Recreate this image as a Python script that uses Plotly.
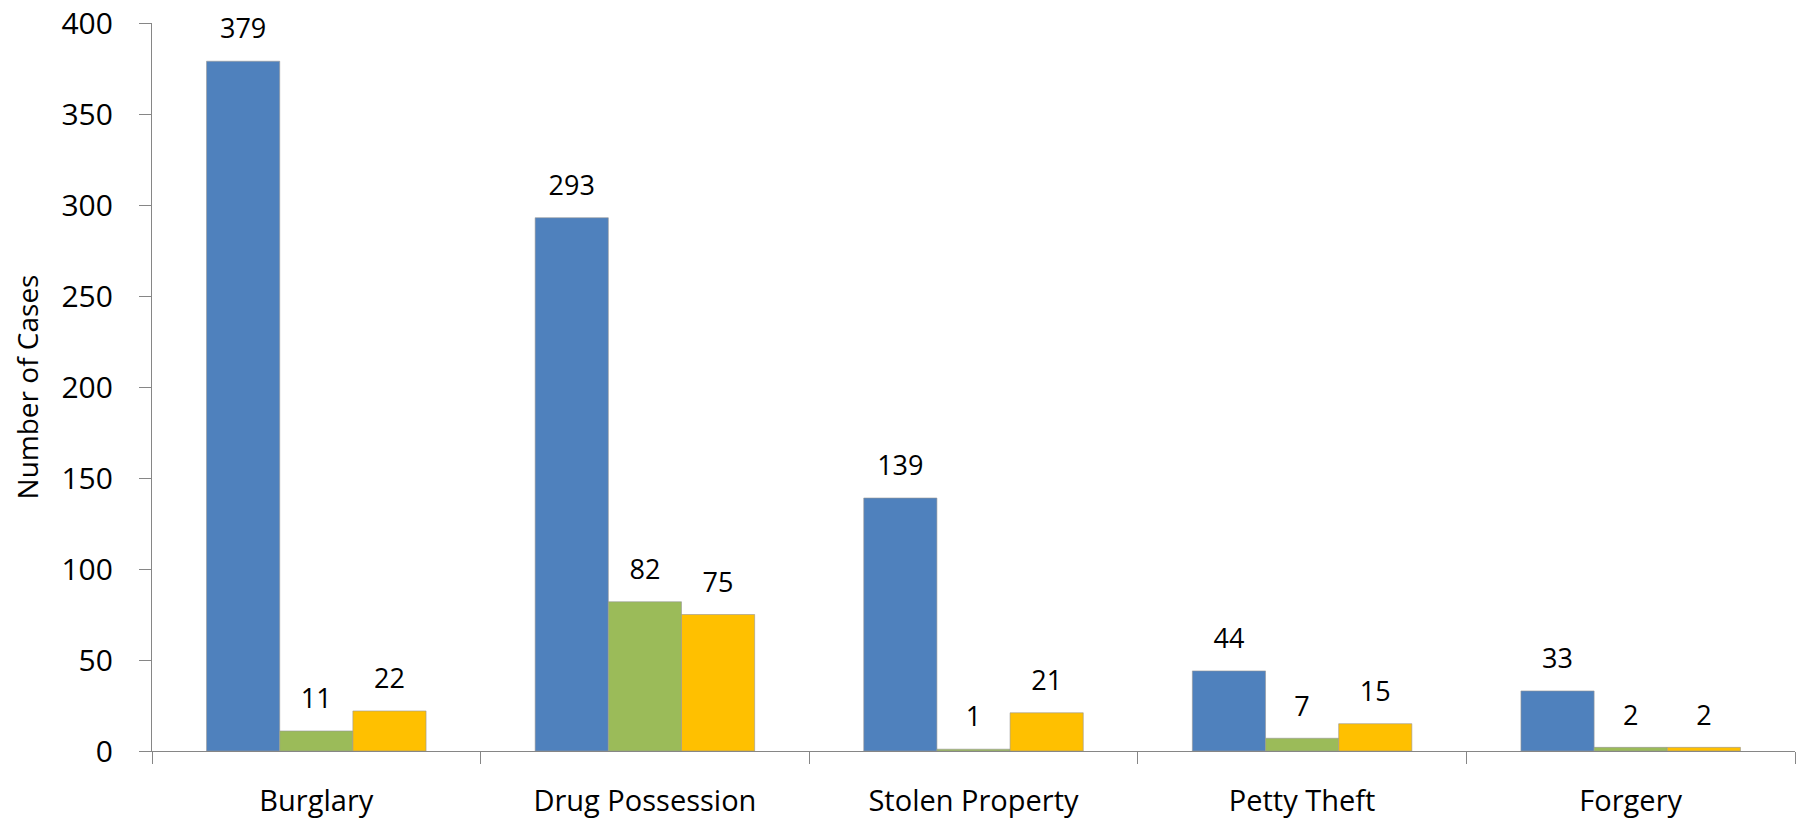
import plotly.graph_objects as go

categories = ["Burglary", "Drug Possession", "Stolen Property", "Petty Theft", "Forgery"]
series_a = [379, 293, 139, 44, 33]
series_b = [11, 82, 1, 7, 2]
series_c = [22, 75, 21, 15, 2]
series_names = ["Series 1", "Series 2", "Series 3"]
colors = ["#4F81BD", "#9BBB59", "#FFC000"]
y_ticks = [0, 50, 100, 150, 200, 250, 300, 350, 400]

FONT = "Open Sans"
GAP = 0.332

fig = go.Figure()
all_series = [series_a, series_b, series_c]
for name, vals, col in zip(series_names, all_series, colors):
    fig.add_trace(go.Bar(
        x=categories, y=vals, name=name,
        marker=dict(color=col, line=dict(color="rgba(150,150,150,0.6)", width=1)),
        hoverinfo="x+y",
    ))
# value labels, placed above each bar (grouped like the bars)
for name, vals in zip(series_names, all_series):
    fig.add_trace(go.Scatter(
        x=categories, y=vals, name=name + " labels",
        mode="markers+text",
        marker=dict(size=24, opacity=0, color="white"),
        text=[str(v) for v in vals], textposition="top center",
        textfont=dict(family=FONT, size=27, color="#000000"),
        cliponaxis=False, hoverinfo="skip", showlegend=False,
    ))

fig.update_layout(
    width=1810, height=819,
    paper_bgcolor="white", plot_bgcolor="white",
    barmode="group", bargap=GAP, bargroupgap=0,
    scattermode="group", scattergap=GAP,
    showlegend=False,
    margin=dict(l=144, r=23, t=15, b=76, autoexpand=False),
    font=dict(family=FONT, color="#000000"),
    xaxis=dict(
        showline=True, linecolor="#868686", linewidth=1.25,
        ticks="outside", ticklen=12, tickcolor="#868686", tickwidth=1.25,
        tickson="boundaries", automargin=False,
        tickfont=dict(family=FONT, size=29, color="#000000"),
        ticklabelstandoff=24,
        showgrid=False, zeroline=False,
    ),
    yaxis=dict(
        range=[0, 400], tickvals=y_ticks, automargin=False,
        showline=True, linecolor="#868686", linewidth=1.25,
        ticks="outside", ticklen=12, tickcolor="#868686", tickwidth=1.25,
        tickfont=dict(family=FONT, size=30, color="#000000"),
        ticklabelstandoff=20, ticklabeloverflow="allow",
        showgrid=False, zeroline=False,
        title=dict(text="Number of Cases", font=dict(family=FONT, size=28, color="#000000"), standoff=14),
    ),
)

fig.write_html("out.html")
